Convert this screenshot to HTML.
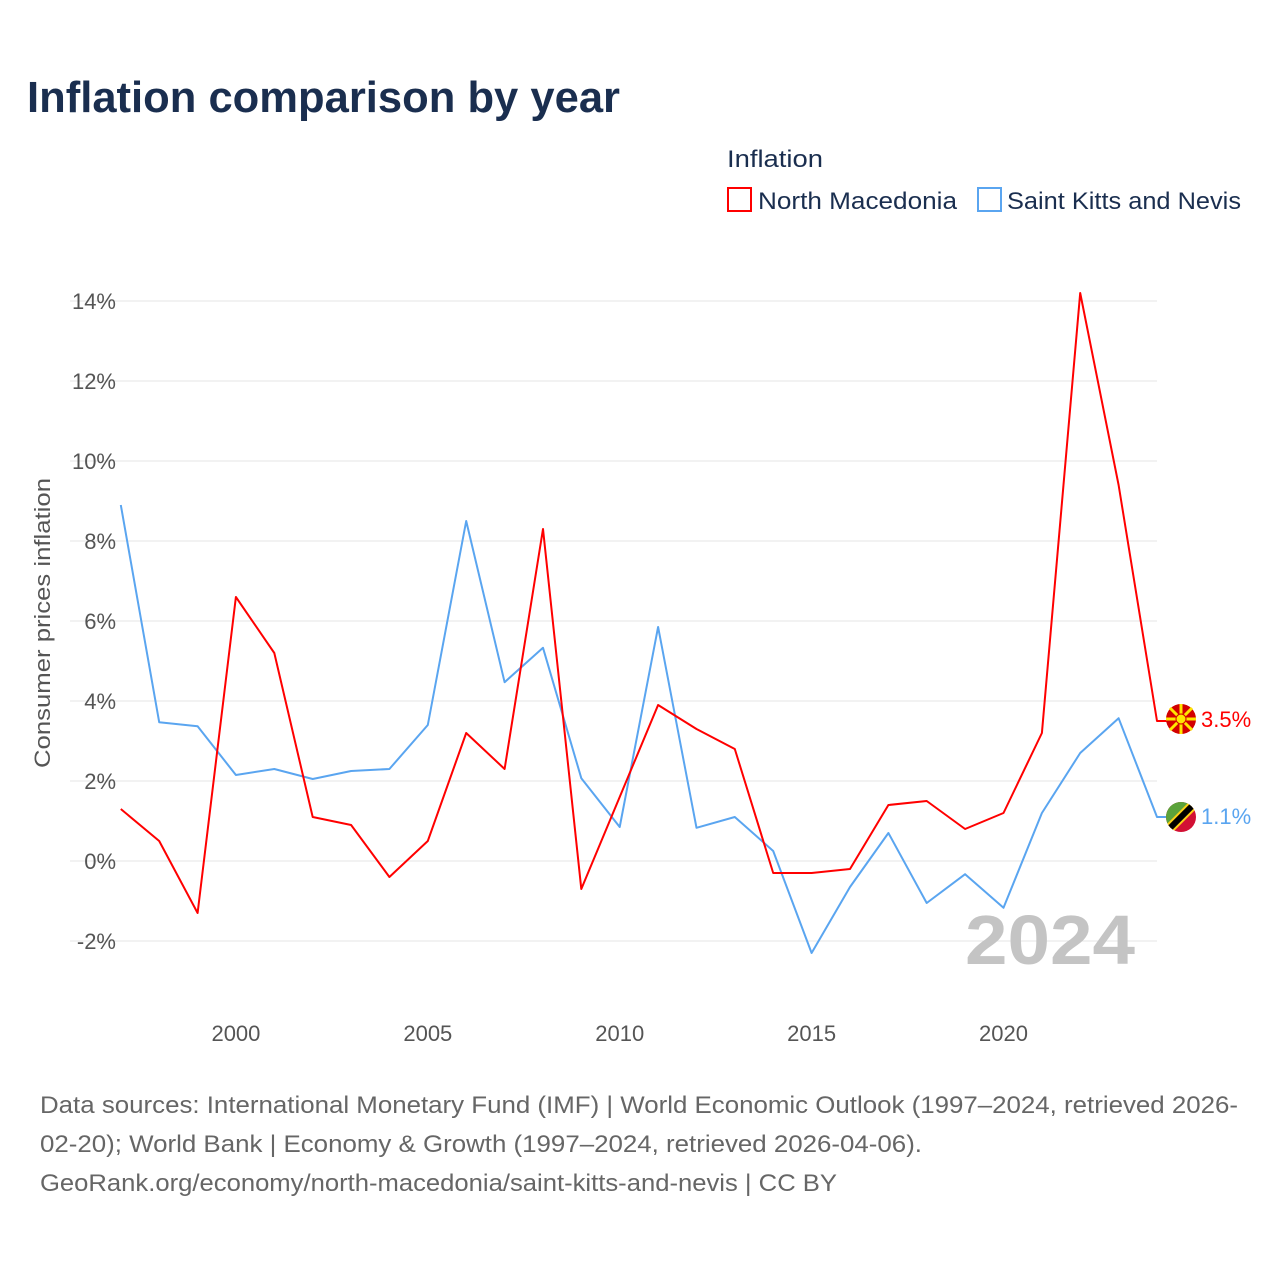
<!DOCTYPE html>
<html><head><meta charset="utf-8"><style>
body{margin:0;background:#fff;font-family:"Liberation Sans",sans-serif;}
svg text{font-family:"Liberation Sans",sans-serif;}
</style></head><body>
<svg width="1280" height="1280" viewBox="0 0 1280 1280">
<rect width="1280" height="1280" fill="#fff"/>
<text x="27" y="112" font-size="44" font-weight="bold" fill="#1a2e4f" textLength="593" lengthAdjust="spacingAndGlyphs">Inflation comparison by year</text>
<text x="727" y="167" font-size="24" fill="#1a2e4f" textLength="96" lengthAdjust="spacingAndGlyphs">Inflation</text>
<g>
<rect x="728" y="188" width="23" height="23" fill="none" stroke="#f00" stroke-width="2"/>
<text x="758" y="209" font-size="24" fill="#1a2e4f" textLength="199" lengthAdjust="spacingAndGlyphs">North Macedonia</text></g>
<g>
<rect x="978" y="188" width="23" height="23" fill="none" stroke="#5aa5f0" stroke-width="2"/>
<text x="1007" y="209" font-size="24" fill="#1a2e4f" textLength="234" lengthAdjust="spacingAndGlyphs">Saint Kitts and Nevis</text></g>
<g id="grid"></g>
<g id="yticks"></g>
<g id="xticks"></g>
<text transform="translate(50,623) rotate(-90)" text-anchor="middle" font-size="22" fill="#555" textLength="290" lengthAdjust="spacingAndGlyphs">Consumer prices inflation</text>
<text x="965" y="964" font-size="70" font-weight="bold" fill="#c4c4c4" textLength="170" lengthAdjust="spacingAndGlyphs">2024</text>
<g id="series"></g>
<g>
<circle cx="1181" cy="719" r="15" fill="#d20000"/>
<g stroke="#ffe600" stroke-width="3"><line x1="1166" y1="719" x2="1196" y2="719"/><line x1="1181" y1="704" x2="1181" y2="734"/><line x1="1170" y1="708" x2="1192" y2="730"/><line x1="1192" y1="708" x2="1170" y2="730"/></g>
<circle cx="1181" cy="719" r="5" fill="#ffe600" stroke="#d20000" stroke-width="1"/></g>
<g>
<clipPath id="cf"><circle cx="1181" cy="817" r="15"/></clipPath>
<g clip-path="url(#cf)"><rect x="1166" y="802" width="30" height="30" fill="#d21034"/>
<polygon points="1166,802 1196,802 1166,832" fill="#5ba33b"/>
<line x1="1164" y1="834" x2="1198" y2="800" stroke="#fcd116" stroke-width="10"/>
<line x1="1164" y1="834" x2="1198" y2="800" stroke="#000" stroke-width="6"/></g></g>
<text x="1201" y="727" font-size="22" fill="#f00">3.5%</text>
<text x="1201" y="824" font-size="22" fill="#5aa5f0">1.1%</text>
<text x="40" y="1113" font-size="24" fill="#666" textLength="1198" lengthAdjust="spacingAndGlyphs">Data sources: International Monetary Fund (IMF) | World Economic Outlook (1997–2024, retrieved 2026-</text>
<text x="40" y="1152" font-size="24" fill="#666" textLength="882" lengthAdjust="spacingAndGlyphs">02-20); World Bank | Economy &amp; Growth (1997–2024, retrieved 2026-04-06).</text>
<text x="40" y="1191" font-size="24" fill="#666" textLength="797" lengthAdjust="spacingAndGlyphs">GeoRank.org/economy/north-macedonia/saint-kitts-and-nevis | CC BY</text>
</svg>
<script>
const years=[1997,1998,1999,2000,2001,2002,2003,2004,2005,2006,2007,2008,2009,2010,2011,2012,2013,2014,2015,2016,2017,2018,2019,2020,2021,2022,2023,2024];
const macedonia=[1.3,0.5,-1.3,6.6,5.2,1.1,0.9,-0.4,0.5,3.2,2.3,8.3,-0.7,1.6,3.9,3.3,2.8,-0.3,-0.3,-0.2,1.4,1.5,0.8,1.2,3.2,14.2,9.4,3.5];
const kitts=[8.9,3.47,3.37,2.15,2.3,2.05,2.25,2.3,3.4,8.5,4.47,5.33,2.07,0.85,5.85,0.83,1.1,0.25,-2.3,-0.65,0.7,-1.05,-0.33,-1.17,1.2,2.7,3.57,1.1];
const yTicks=[-2,0,2,4,6,8,10,12,14];
const xTicks=[2000,2005,2010,2015,2020];
const NS="http://www.w3.org/2000/svg";
const X=y=>120.8+(y-1997)*(1157-120.8)/27;
const Y=v=>861-v*40;
function mk(t,a,p){const e=document.createElementNS(NS,t);for(const k in a)e.setAttribute(k,a[k]);p.appendChild(e);return e;}
const grid=document.getElementById('grid'),yt=document.getElementById('yticks'),xt=document.getElementById('xticks'),se=document.getElementById('series');
yTicks.forEach(v=>{
const l=mk('line',{x1:70,x2:1157,y1:Y(v),y2:Y(v),stroke:'#e6e6e6','stroke-width':1},grid);


const t=mk('text',{x:116,y:Y(v)+8,'text-anchor':'end','font-size':22,fill:'#555'},yt);
t.textContent=v+'%';


});
xTicks.forEach(v=>{
const t=mk('text',{x:X(v),y:1041,'text-anchor':'middle','font-size':22,fill:'#555'},xt);
t.textContent=v;


});
function line(vals,color,name){
let d=vals.map((v,i)=>(i?'L':'M')+X(years[i]).toFixed(1)+','+Y(v).toFixed(1)).join('');
d+='L1170,'+Y(vals[vals.length-1]).toFixed(1);
const p=mk('path',{d:d,fill:'none',stroke:color,'stroke-width':2,'stroke-linejoin':'round'},se);


}
line(kitts,'#5aa5f0','line-saint-kitts');
line(macedonia,'#f00','line-north-macedonia');
</script>
</body></html>
